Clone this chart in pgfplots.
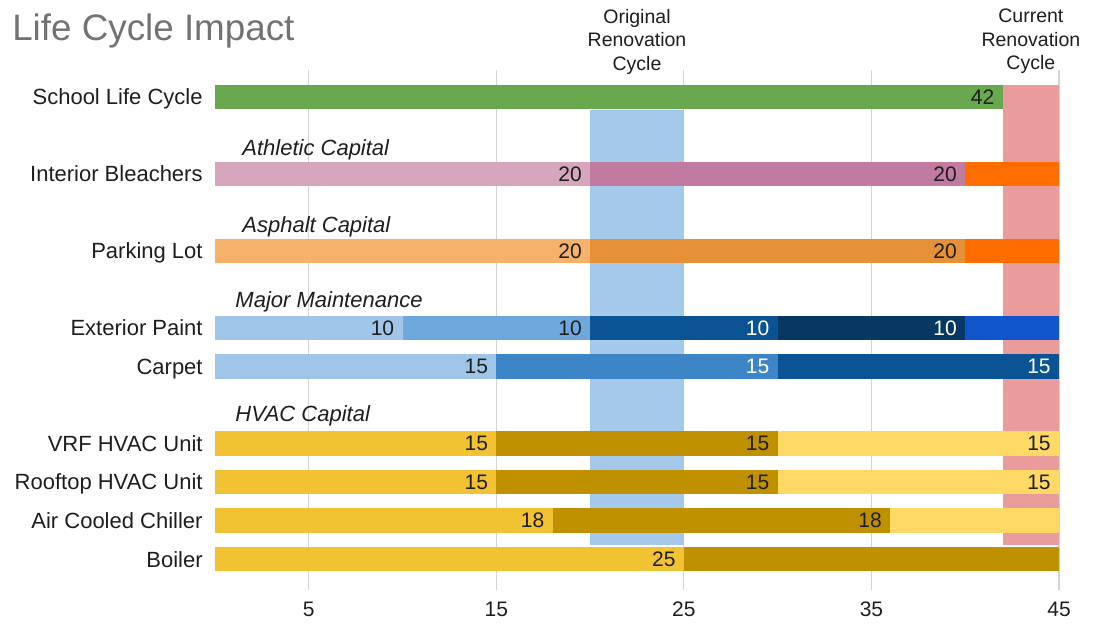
\documentclass[border=0pt]{standalone}
\usepackage{fontspec}
\setmainfont{Liberation Sans}
\usepackage{pgfplots}
\pgfplotsset{compat=1.18}

\definecolor{cgreen}{HTML}{6AA84F}
\definecolor{cpink1}{HTML}{D5A6BD}
\definecolor{cpink2}{HTML}{C27BA0}
\definecolor{corange}{HTML}{FF6D01}
\definecolor{cor1}{HTML}{F6B26B}
\definecolor{cor2}{HTML}{E69138}
\definecolor{cb1}{HTML}{9FC5E8}
\definecolor{cb2}{HTML}{6FA8DC}
\definecolor{cb3}{HTML}{0B5394}
\definecolor{cb4}{HTML}{073763}
\definecolor{cb5}{HTML}{1155CC}
\definecolor{cbc}{HTML}{3D85C6}
\definecolor{cgold}{HTML}{F1C232}
\definecolor{cdgold}{HTML}{BF9000}
\definecolor{clight}{HTML}{FFD966}
\definecolor{bandblue}{HTML}{A4C9EA}
\definecolor{bandpink}{HTML}{EA9C9C}
\definecolor{dark}{HTML}{1E1E1E}

\pgfplotsset{
  seg/.style={xbar, bar width=12.25pt, bar shift=0pt, draw=none, fill=#1},
  lab/.style={nodes near coords, point meta=explicit symbolic,
    every node near coord/.append style={anchor=east, inner sep=0pt, xshift=-4pt,
      font=\fontsize{10.5}{12}\selectfont, text=#1}},
}

\begin{document}
\begin{tikzpicture}
\begin{axis}[
  at={(0,0)}, anchor=south west,
  scale only axis, width=422pt, height=260pt,
  xmin=0, xmax=45, ymin=-0.805, ymax=12.70,
  clip=false,
  axis line style={draw=none},
  major tick length=0pt,
  xtick={5,15,25,35,45},
  xmajorgrids, grid style={draw=black!17, line width=0.6pt},
  ytick={0,1,2,3,5,6,8,10,12},
  yticklabels={Boiler, Air Cooled Chiller, Rooftop HVAC Unit, VRF HVAC Unit, Carpet, Exterior Paint, Parking Lot, Interior Bleachers, School Life Cycle},
  yticklabel style={font=\fontsize{11}{13}\selectfont, text=dark, anchor=base east, inner sep=0pt, xshift=-6pt, yshift=-4pt},
  xticklabel style={font=\fontsize{10.5}{12}\selectfont, text=dark, anchor=center, inner sep=0pt, yshift=-9.5pt},
  /pgf/number format/assume math mode=true,
]
% renovation bands
\addplot[draw=none, fill=bandblue] coordinates {(20,0.36) (25,0.36) (25,11.66) (20,11.66)} -- cycle;
\addplot[draw=none, fill=bandpink] coordinates {(42,0.36) (45,0.36) (45,12.31) (42,12.31)} -- cycle;

% School Life Cycle (y=12)
\addplot[seg=cgreen, lab=dark] coordinates {(42,12) [42]};
% Interior Bleachers (y=10)
\addplot[seg=corange] coordinates {(45,10)};
\addplot[seg=cpink2, lab=dark] coordinates {(40,10) [20]};
\addplot[seg=cpink1, lab=dark] coordinates {(20,10) [20]};
% Parking Lot (y=8)
\addplot[seg=corange] coordinates {(45,8)};
\addplot[seg=cor2, lab=dark] coordinates {(40,8) [20]};
\addplot[seg=cor1, lab=dark] coordinates {(20,8) [20]};
% Exterior Paint (y=6)
\addplot[seg=cb5] coordinates {(45,6)};
\addplot[seg=cb4, lab=white] coordinates {(40,6) [10]};
\addplot[seg=cb3, lab=white] coordinates {(30,6) [10]};
\addplot[seg=cb2, lab=dark] coordinates {(20,6) [10]};
\addplot[seg=cb1, lab=dark] coordinates {(10,6) [10]};
% Carpet (y=5)
\addplot[seg=cb3, lab=white] coordinates {(45,5) [15]};
\addplot[seg=cbc, lab=white] coordinates {(30,5) [15]};
\addplot[seg=cb1, lab=dark] coordinates {(15,5) [15]};
% VRF HVAC Unit (y=3)
\addplot[seg=clight, lab=dark] coordinates {(45,3) [15]};
\addplot[seg=cdgold, lab=dark] coordinates {(30,3) [15]};
\addplot[seg=cgold, lab=dark] coordinates {(15,3) [15]};
% Rooftop HVAC Unit (y=2)
\addplot[seg=clight, lab=dark] coordinates {(45,2) [15]};
\addplot[seg=cdgold, lab=dark] coordinates {(30,2) [15]};
\addplot[seg=cgold, lab=dark] coordinates {(15,2) [15]};
% Air Cooled Chiller (y=1)
\addplot[seg=clight] coordinates {(45,1)};
\addplot[seg=cdgold, lab=dark] coordinates {(36,1) [18]};
\addplot[seg=cgold, lab=dark] coordinates {(18,1) [18]};
% Boiler (y=0)
\addplot[seg=cdgold] coordinates {(45,0)};
\addplot[seg=cgold, lab=dark] coordinates {(25,0) [25]};

% group labels
\node[anchor=base west, inner sep=0pt, yshift=-4pt, font=\fontsize{11}{13}\selectfont\itshape, text=dark] at (axis cs:1.44,10.675) {Athletic Capital};
\node[anchor=base west, inner sep=0pt, yshift=-4pt, font=\fontsize{11}{13}\selectfont\itshape, text=dark] at (axis cs:1.44,8.675) {Asphalt Capital};
\node[anchor=base west, inner sep=0pt, yshift=-4pt, font=\fontsize{11}{13}\selectfont\itshape, text=dark] at (axis cs:1.07,6.73) {Major Maintenance};
\node[anchor=base west, inner sep=0pt, yshift=-4pt, font=\fontsize{11}{13}\selectfont\itshape, text=dark] at (axis cs:1.07,3.77) {HVAC Capital};

% band labels
\node[align=center, inner sep=0pt, font=\fontsize{9.75}{11.75}\selectfont, text=dark] at (axis cs:22.5,13.44) {Original\\Renovation\\Cycle};
\node[align=center, inner sep=0pt, font=\fontsize{9.75}{11.75}\selectfont, text=dark] at (axis cs:43.5,13.44) {Current\\Renovation\\Cycle};

% title
\node[anchor=base west, inner sep=0pt, font=\fontsize{18.4}{20}\selectfont, text=black!55] at (axis cs:-10.83,13.47) {Life Cycle Impact};
\end{axis}
\pgfresetboundingbox
\path[use as bounding box] (-107.5pt,-17pt) rectangle (440pt,295pt);
\end{tikzpicture}
\end{document}
